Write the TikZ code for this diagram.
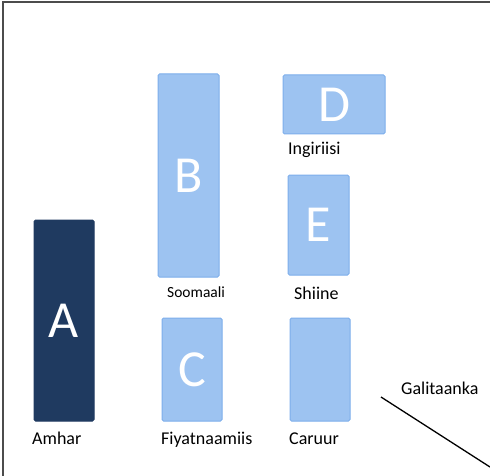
\documentclass[tikz,border=0pt]{standalone}
\usepackage{fontspec}
\setmainfont{Carlito}
\definecolor{bleu}{HTML}{9DC3F1}
\definecolor{bordbleu}{HTML}{7DAEEB}
\definecolor{marine}{HTML}{1F3A60}
\begin{document}
\begin{tikzpicture}[x=1pt,y=-1pt]
\tikzstyle{trait}=[line width=1.3pt]
\tikzset{bloc/.style={draw=bordbleu,fill=bleu,line width=1pt,rounded corners=1.5pt,inner sep=0pt,text=white,font=\fontsize{52}{52}\selectfont},
fonce/.style={bloc,draw=marine,fill=marine}}
\tikzset{etiquette/.style={anchor=base west,inner sep=0pt,font=\fontsize{18}{20}\selectfont}}
\useasboundingbox (0,0) rectangle (490,476);
\draw[line width=2.2pt,black!70] (2.6,476) -- (2.6,1.8) -- (490,1.8);

\node[fonce,minimum width=60,minimum height=201] (A) at (64,320.5) {A};
\node[bloc,minimum width=61,minimum height=203] (B) at (188.5,175.5) {B};
\node[bloc,minimum width=60,minimum height=103] (C) at (192,369.5) {C};
\node[bloc,minimum width=102,minimum height=59] (D) at (334,104.5) {D};
\node[bloc,minimum width=61,minimum height=100] (E) at (318.5,225) {E};
\node[bloc,minimum width=60,minimum height=103] (F) at (320,369.5) {};

\node[etiquette] (lA) at (32,444) {Amhar};
\node[etiquette] (lC) at (161,444) {Fiyatnaamiis};
\node[etiquette] (lF) at (289,444) {Caruur};
\node[etiquette,font=\fontsize{15.5}{18}\selectfont] (lB) at (167,297) {Soomaali};
\node[etiquette] (lE) at (294,299) {Shiine};
\node[etiquette] (lD) at (288,155) {Ingiriisi};
\node[etiquette] (lG) at (401,394) {Galitaanka};

\coordinate (g1) at (381,397);
\coordinate (g2) at (490,467);
\draw[trait] (g1) -- (g2);

\end{tikzpicture}
\end{document}
